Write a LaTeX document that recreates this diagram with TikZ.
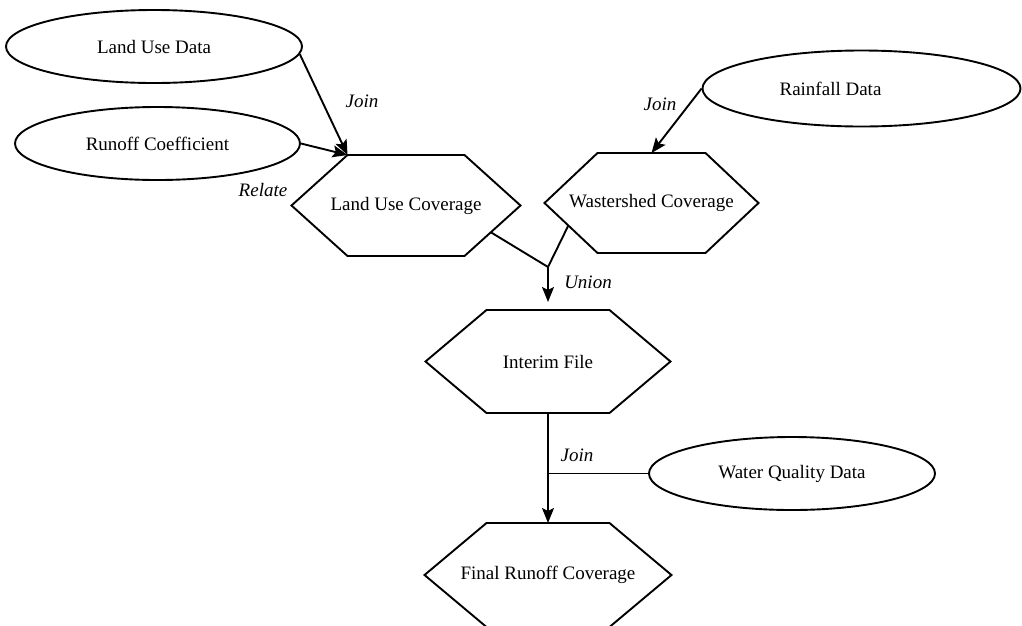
\documentclass[tikz,border=0pt]{standalone}
\usepackage{fontspec}
\setmainfont{Liberation Serif}
\usetikzlibrary{shapes.geometric,calc,arrows.meta}
\tikzset{
  every picture/.style={x=1pt,y=-1pt},
  lw/.style={line width=1.9pt},
  txt/.style={font=\fontsize{19}{22}\selectfont},
  oval/.style={ellipse,draw,lw,inner sep=0pt,txt},
  hexbody/.style={rectangle,inner sep=0pt,txt},
  hexline/.style={lw,line join=miter},
  lbl/.style={font=\fontsize{19}{22}\selectfont\itshape,inner sep=0pt},
  conn/.style={lw},
  arr/.style={lw,-{Stealth[length=15pt,width=12pt,inset=3pt]}}
}
% name, cx, cy, half body width, half height, point depth, text
\newcommand\hexnode[7]{%
  \node[hexbody] (#1) at (#2,#3) {#7};
  \coordinate (#1-nw) at ($(#2,#3)+(-#4,-#5)$);
  \coordinate (#1-ne) at ($(#2,#3)+(#4,-#5)$);
  \coordinate (#1-sw) at ($(#2,#3)+(-#4,#5)$);
  \coordinate (#1-se) at ($(#2,#3)+(#4,#5)$);
  \coordinate (#1-e) at ($(#2,#3)+(#4+#6,0)$);
  \coordinate (#1-w) at ($(#2,#3)+(-#4-#6,0)$);
  \coordinate (#1-n) at ($(#2,#3)+(0,-#5)$);
  \coordinate (#1-s) at ($(#2,#3)+(0,#5)$);
  \draw[hexline] (#1-nw) -- (#1-ne) -- (#1-e) -- (#1-se)
     -- (#1-sw) -- (#1-w) -- cycle;
}
\begin{document}
\begin{tikzpicture}
\useasboundingbox (0,0) rectangle (1022,625);
% ellipses
\node[oval,minimum width=296,minimum height=73] (lud) at (154,46.5) {Land Use Data};
\node[oval,minimum width=285,minimum height=73] (roc) at (157.5,143.5) {Runoff Coefficient};
\node[oval,minimum width=318,minimum height=76,
      label={[xshift=-31pt,txt]center:Rainfall Data}] (rfd) at (861.5,88.5) {};
\node[oval,minimum width=286,minimum height=73] (wqd) at (792,473.5) {Water Quality Data};
% hexagons
\hexnode{luc}{406}{205.5}{58.5}{50.5}{56}{Land Use Coverage}
\hexnode{wsc}{651.5}{203}{54}{50}{53}{Wastershed Coverage}
\hexnode{int}{548}{361.5}{61.5}{51.5}{61}{Interim File}
\hexnode{fin}{548}{575}{61.5}{52}{62}{Final Runoff Coverage}
% connectors
\draw[arr] (lud.-3.5) -- (luc-nw);
\draw[arr] (roc.east) -- (luc-nw);
\draw[arr] (rfd.west) -- (wsc-n);
\coordinate (j) at (548,267);
\draw[conn] ($(luc-se)!0.47!(luc-e)$) -- (j);
\draw[conn] ($(wsc-sw)!0.55!(wsc-w)$) -- (j);
\draw[arr,shorten >=8pt] (j) -- (int-n);
\draw[arr] (int-s) -- (fin-n);
\coordinate (k) at (wqd.west -| int-s);
\draw[conn] (wqd.west) -- (k);
% labels
\node[lbl] (l1) at (362,101) {Join};
\node[lbl] (l2) at (263,190) {Relate};
\node[lbl] (l3) at (660,104) {Join};
\node[lbl] (l4) at (588,282) {Union};
\node[lbl] (l5) at (577,455) {Join};
\end{tikzpicture}
\end{document}
